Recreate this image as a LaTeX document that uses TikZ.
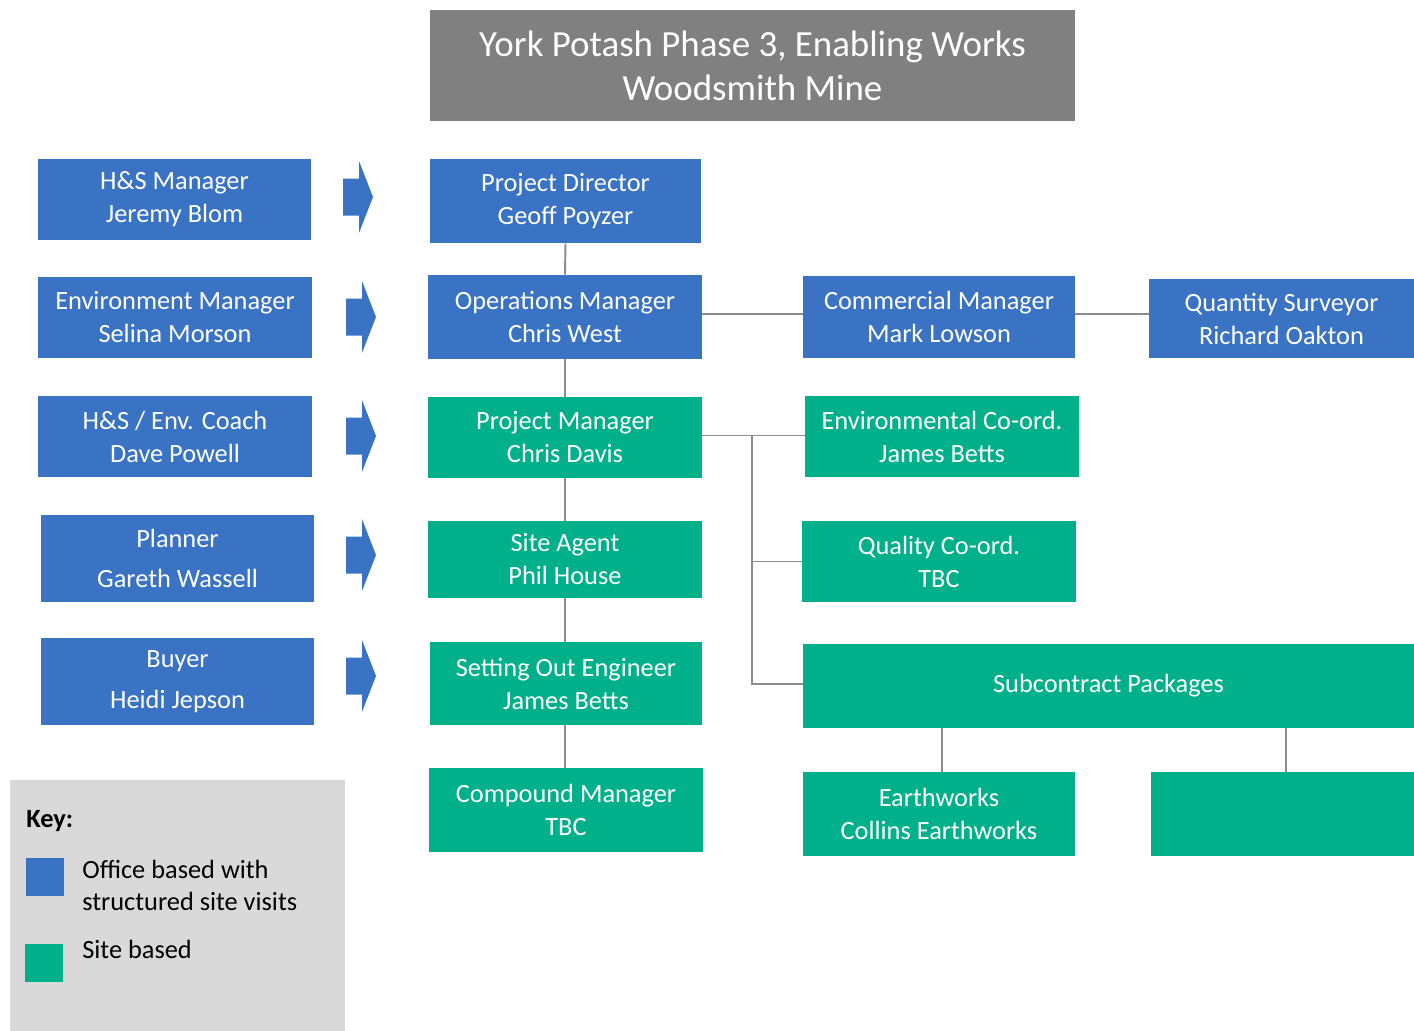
\documentclass[tikz,border=0pt]{standalone}
\usepackage{fontspec}
\setmainfont{Carlito}

\definecolor{officeblue}{HTML}{3A73C4}
\definecolor{sitegreen}{HTML}{00B08A}
\definecolor{titlegrey}{HTML}{808080}
\definecolor{keygrey}{HTML}{D9D9D9}
\definecolor{linegrey}{HTML}{8C8C8C}

\begin{document}
\begin{tikzpicture}[x=0.02cm, y=-0.02cm,
  every node/.style = {shape=rectangle, sharp corners,
    align=center, inner sep=0pt},
  box/.style = {text=white, font=\fontsize{15}{18.8}\selectfont,
    minimum width=5.48cm, minimum height=1.62cm},
  office/.style = {box, fill=officeblue},
  site/.style = {box, fill=sitegreen},
  keytext/.style = {anchor=west, align=left, font=\fontsize{15}{18.2}\selectfont},
  link/.style = {draw=linegrey, line width=1.1pt}]
  \useasboundingbox (0,0) rectangle (1414,1031);

  % title
  \node[fill=titlegrey, text=white, minimum width=12.9cm, minimum height=2.22cm,
    font=\fontsize{21}{25}\selectfont] (title) at (752.5,65.5)
    {York Potash Phase 3, Enabling Works\\Woodsmith Mine};

  % office support column
  \node[office, minimum width=5.46cm] (hs) at (174.5,199.5) {H\&S Manager\\Jeremy Blom};
  \node[office] (env) at (175,317.5) {Environment Manager\\Selina Morson};
  \node[office] (coach) at (175,436.5) {H\&S / Env. Coach\\Dave Powell};
  \node[office, minimum width=5.46cm, minimum height=1.74cm,
    font=\fontsize{15}{22.8}\selectfont] (planner) at (177.5,558.5) {Planner\\Gareth Wassell};
  \node[office, minimum width=5.46cm, minimum height=1.74cm,
    font=\fontsize{15}{23.2}\selectfont] (buyer) at (177.5,681.5) {Buyer\\Heidi Jepson};

  \foreach \x/\y in {343/197, 346/317, 346/436, 346/555, 346/676}
    \fill[officeblue] (\x,\y-18.5) -- (\x+16,\y-18.5) -- (\x+16,\y-36)
      -- (\x+30,\y) -- (\x+16,\y+36) -- (\x+16,\y+18.5) -- (\x,\y+18.5) -- cycle;

  % main line
  \node[office, minimum width=5.42cm, minimum height=1.68cm] (pd) at (565.5,201) {Project Director\\Geoff Poyzer};
  \node[office, minimum height=1.68cm] (ops) at (565,317) {Operations Manager\\Chris West};
  \node[site] (pm) at (565,437.5) {Project Manager\\Chris Davis};
  \node[site, minimum height=1.54cm] (agent) at (565,559.5) {Site Agent\\Phil House};
  \node[site, minimum width=5.44cm, minimum height=1.66cm] (setout) at (566,683.5) {Setting Out Engineer\\James Betts};
  \node[site, minimum height=1.68cm] (compound) at (566,810) {Compound Manager\\TBC};

  % commercial
  \node[office, minimum width=5.44cm, minimum height=1.64cm] (comm) at (939,317) {Commercial Manager\\Mark Lowson};
  \node[office, minimum width=5.3cm, minimum height=1.58cm] (qs) at (1281.5,318.5) {Quantity Surveyor\\Richard Oakton};

  % site team
  \node[site] (envco) at (942,436.5) {Environmental Co-ord.\\James Betts};
  \node[site] (quality) at (939,561.5) {Quality Co-ord.\\TBC};
  \node[site, minimum width=12.22cm, minimum height=1.68cm] (sub) at (1108.5,686) {Subcontract Packages};
  \node[site, minimum width=5.44cm, minimum height=1.68cm] (earth) at (939,814) {Earthworks\\Collins Earthworks};
  \node[site, minimum width=5.26cm, minimum height=1.68cm] (spare) at (1282.5,814) {};

  % connectors
  \draw[link] (pd.south) -- (ops.north);
  \draw[link] (ops.south) -- (pm.north);
  \draw[link] (pm.south) -- (agent.north);
  \draw[link] (agent.south) -- (agent.south |- setout.north);
  \draw[link] (setout.south -| agent.south) -- (compound.north -| agent.south);
  \draw[link] ([yshift=0.06cm]ops.east) -- ([yshift=0.06cm]ops.east -| comm.west);
  \draw[link] ([yshift=0.06cm]comm.east) -- ([yshift=0.06cm]comm.east -| qs.west);
  \draw[link] ([yshift=0.04cm]pm.east) -- ([yshift=0.04cm]pm.east -| envco.west);
  \coordinate (branch) at (752,435.5);
  \draw[link] (branch) |- (quality.west);
  \draw[link] (branch) |- ([yshift=0.04cm]sub.west);
  \draw[link] ([xshift=0.06cm]earth.north |- sub.south) -- ([xshift=0.06cm]earth.north);
  \draw[link] ([xshift=0.07cm]spare.north |- sub.south) -- ([xshift=0.07cm]spare.north);

  % key
  \node[fill=keygrey, minimum width=6.7cm, minimum height=5.02cm] (key) at (177.5,905.5) {};
  \node[keytext, font=\fontsize{15}{18.2}\selectfont\bfseries] (keyhead) at (26,821) {Key:};
  \node[fill=officeblue, minimum size=0.76cm] (keyoffice) at (45,877) {};
  \node[fill=sitegreen, minimum size=0.76cm] (keysite) at (44,963) {};
  \node[keytext] (keyofficetext) at (82,885) {Office based with\\structured site visits};
  \node[keytext] (keysitetext) at (82,949) {Site based};
\end{tikzpicture}
\end{document}
